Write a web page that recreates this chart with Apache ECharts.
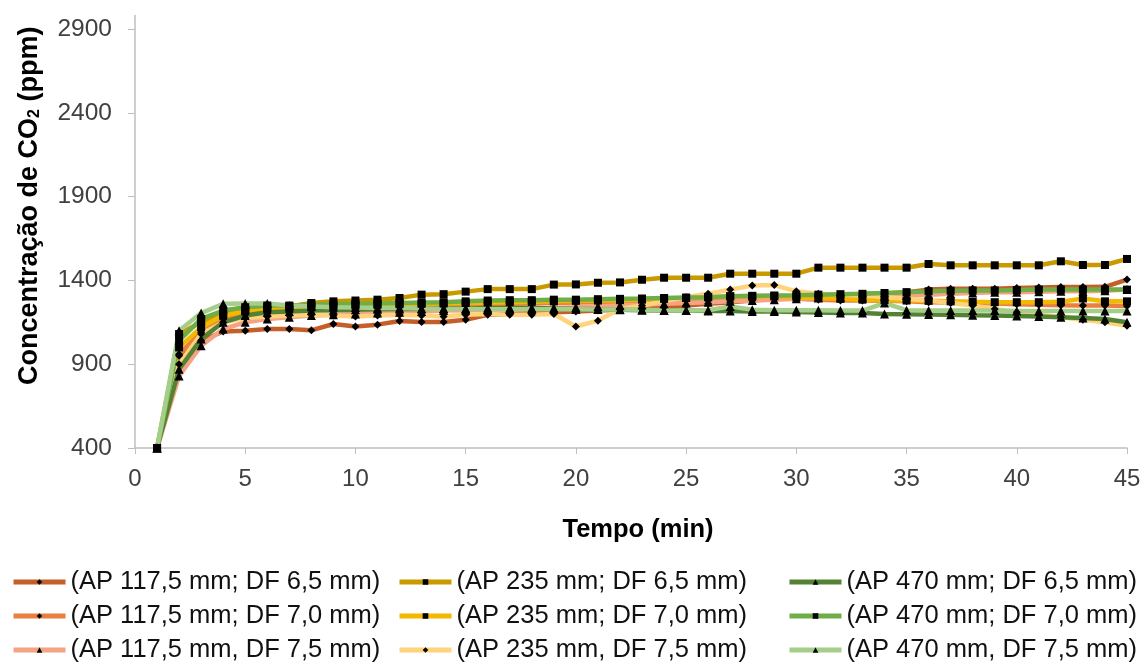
<!DOCTYPE html>
<html>
<head>
<meta charset="utf-8">
<script src="https://cdn.jsdelivr.net/npm/echarts@6/dist/echarts.min.js"></script>
<style>
html,body{margin:0;padding:0;background:#fff;}
#c{width:1146px;height:666px;}
</style>
</head>
<body>
<div id="c"></div>
<script>
const minutes = [1,2,3,4,5,6,7,8,9,10,11,12,13,14,15,16,17,18,19,20,21,22,23,24,25,26,27,28,29,30,31,32,33,34,35,36,37,38,39,40,41,42,43,44,45];

const names = [
  '(AP 117,5 mm; DF 6,5 mm)', '(AP 117,5 mm; DF 7,0 mm)', '(AP 117,5 mm, DF 7,5 mm)',
  '(AP 235 mm; DF 6,5 mm)', '(AP 235 mm; DF 7,0 mm)', '(AP 235 mm, DF 7,5 mm)',
  '(AP 470 mm; DF 6,5 mm)', '(AP 470 mm; DF 7,0 mm)', '(AP 470 mm, DF 7,5 mm)'
];

const ap117_df65 = [400,950,1040,1095,1100,1110,1110,1102,1140,1125,1136,1158,1152,1152,1165,1195,1200,1205,1210,1215,1220,1225,1230,1240,1250,1260,1270,1280,1290,1300,1310,1310,1320,1320,1330,1345,1350,1350,1350,1355,1358,1360,1360,1362,1405];
const ap117_df70 = [400,960,1090,1170,1200,1215,1220,1225,1230,1235,1240,1245,1250,1250,1255,1260,1260,1262,1265,1268,1270,1272,1275,1278,1280,1282,1285,1288,1290,1290,1285,1280,1280,1278,1275,1270,1268,1265,1262,1258,1255,1252,1250,1250,1248];
const ap117_df75 = [400,830,1010,1110,1150,1170,1180,1190,1195,1200,1205,1210,1215,1220,1222,1225,1228,1230,1235,1240,1245,1250,1255,1260,1265,1270,1275,1280,1285,1290,1295,1300,1300,1305,1310,1315,1320,1325,1330,1330,1333,1335,1335,1338,1345];
const ap235_df65 = [400,1080,1150,1200,1225,1240,1245,1265,1275,1280,1285,1295,1315,1318,1333,1348,1348,1348,1375,1376,1386,1388,1404,1416,1416,1416,1440,1440,1440,1440,1476,1476,1476,1476,1476,1498,1490,1490,1490,1490,1490,1514,1492,1492,1528];
const ap235_df70 = [400,1000,1120,1190,1215,1225,1230,1240,1245,1250,1255,1258,1260,1262,1265,1268,1270,1272,1275,1278,1280,1282,1285,1290,1295,1300,1305,1305,1305,1300,1295,1290,1285,1282,1280,1278,1275,1272,1270,1270,1270,1272,1292,1275,1275];
const ap235_df75 = [400,900,1080,1150,1175,1185,1190,1195,1190,1185,1190,1195,1190,1185,1195,1200,1195,1195,1200,1125,1160,1230,1250,1275,1300,1320,1345,1370,1372,1335,1320,1315,1310,1300,1290,1280,1265,1250,1230,1210,1195,1180,1165,1150,1130];
const ap470_df65 = [400,870,1050,1150,1190,1210,1215,1220,1222,1225,1228,1230,1230,1232,1232,1235,1235,1235,1232,1230,1228,1225,1222,1220,1220,1218,1218,1215,1215,1212,1208,1205,1205,1200,1198,1196,1195,1192,1190,1188,1185,1180,1175,1170,1150];
const ap470_df70 = [400,1040,1170,1220,1240,1250,1250,1255,1258,1260,1262,1265,1268,1270,1275,1280,1282,1282,1285,1285,1288,1290,1292,1295,1298,1300,1305,1308,1310,1312,1315,1318,1320,1325,1330,1335,1338,1340,1340,1342,1345,1345,1345,1345,1345];
const ap470_df75 = [400,1100,1205,1260,1262,1262,1250,1245,1240,1238,1235,1235,1232,1230,1230,1228,1228,1228,1228,1228,1226,1226,1225,1222,1220,1222,1245,1225,1222,1222,1222,1220,1220,1265,1222,1220,1220,1220,1220,1218,1218,1218,1218,1218,1218];

const seriesData = [ap117_df65, ap117_df70, ap117_df75, ap235_df65, ap235_df70, ap235_df75, ap470_df65, ap470_df70, ap470_df75];
const colors = ['#C55F2A','#E9803F','#F4A482','#C99A00','#F3B800','#FFD27C','#548235','#70AD47','#A6CE8B'];
const symbols = ['diamond','diamond','triangle','rect','rect','diamond','triangle','rect','triangle'];
const symbolSizes = [8,8,9,8,8,8,9,8,9];

const yTicks = {min:400, max:2980, interval:500};
const xTicks = {min:0, max:45, interval:5};

const FONT = 'Liberation Sans, Arial, sans-serif';
const TICK_COLOR = '#404040';

const series = seriesData.map((d,i)=>({
  name: names[i],
  type: 'line',
  data: d.map((v,j)=>[minutes[j], v]),
  symbol: symbols[i],
  symbolSize: symbolSizes[i],
  itemStyle: {color: '#000'},
  lineStyle: {color: colors[i], width: 4.5},
  color: colors[i],
  z: 2
}));

const legendCommon = {
  orient: 'vertical',
  top: 569,
  padding: 0,
  itemGap: 8,
  itemWidth: 52,
  itemHeight: 7,
  height: 97,
  lineStyle: {width: 5},
  textStyle: {fontFamily: FONT, fontSize: 25.5, lineHeight: 26, color: '#111'}
};

const chart = echarts.init(document.getElementById('c'));
chart.setOption({
  animation: false,
  backgroundColor: '#fff',
  grid: {left: 135, right: 19, top: 15.6, bottom: 218},
  xAxis: {
    type: 'value', min: xTicks.min, max: xTicks.max, interval: xTicks.interval,
    name: 'Tempo (min)', nameLocation: 'middle', nameGap: 69,
    nameTextStyle: {fontFamily: FONT, fontSize: 25.5, fontWeight: 'bold', color: '#000', padding: [0,0,0,14]},
    axisLine: {lineStyle: {color: '#BFBFBF', width: 1.5}},
    axisTick: {show: true, length: 6, lineStyle: {color: '#BFBFBF'}},
    axisLabel: {fontFamily: FONT, fontSize: 24, color: TICK_COLOR, margin: 19},
    splitLine: {show: false}
  },
  yAxis: {
    type: 'value', min: yTicks.min, max: yTicks.max, interval: yTicks.interval,
    name: 'Concentração de CO{sub|2} (ppm)', nameLocation: 'middle', nameGap: 92,
    nameTextStyle: {fontFamily: FONT, fontSize: 27, fontWeight: 'bold', color: '#000', padding: [0,0,0,52],
      rich: {sub: {fontFamily: FONT, fontSize: 16, fontWeight: 'bold', color: '#000', verticalAlign: 'bottom', padding:[10,0,0,0]}}},
    axisLine: {show: true, lineStyle: {color: '#BFBFBF', width: 1.5}},
    axisTick: {show: true, length: 7, lineStyle: {color: '#BFBFBF'}},
    axisLabel: {fontFamily: FONT, fontSize: 24.5, color: TICK_COLOR, margin: 23, showMaxLabel: false,
      formatter: v => String(v)},
    splitLine: {show: false}
  },
  legend: [
    Object.assign({}, legendCommon, {left: 11, data: [names[0], names[1], names[2]]}),
    Object.assign({}, legendCommon, {left: 397, data: [names[3], names[4], names[5]]}),
    Object.assign({}, legendCommon, {left: 787, data: [names[6], names[7], names[8]]})
  ],
  series: series
});
</script>
</body>
</html>
